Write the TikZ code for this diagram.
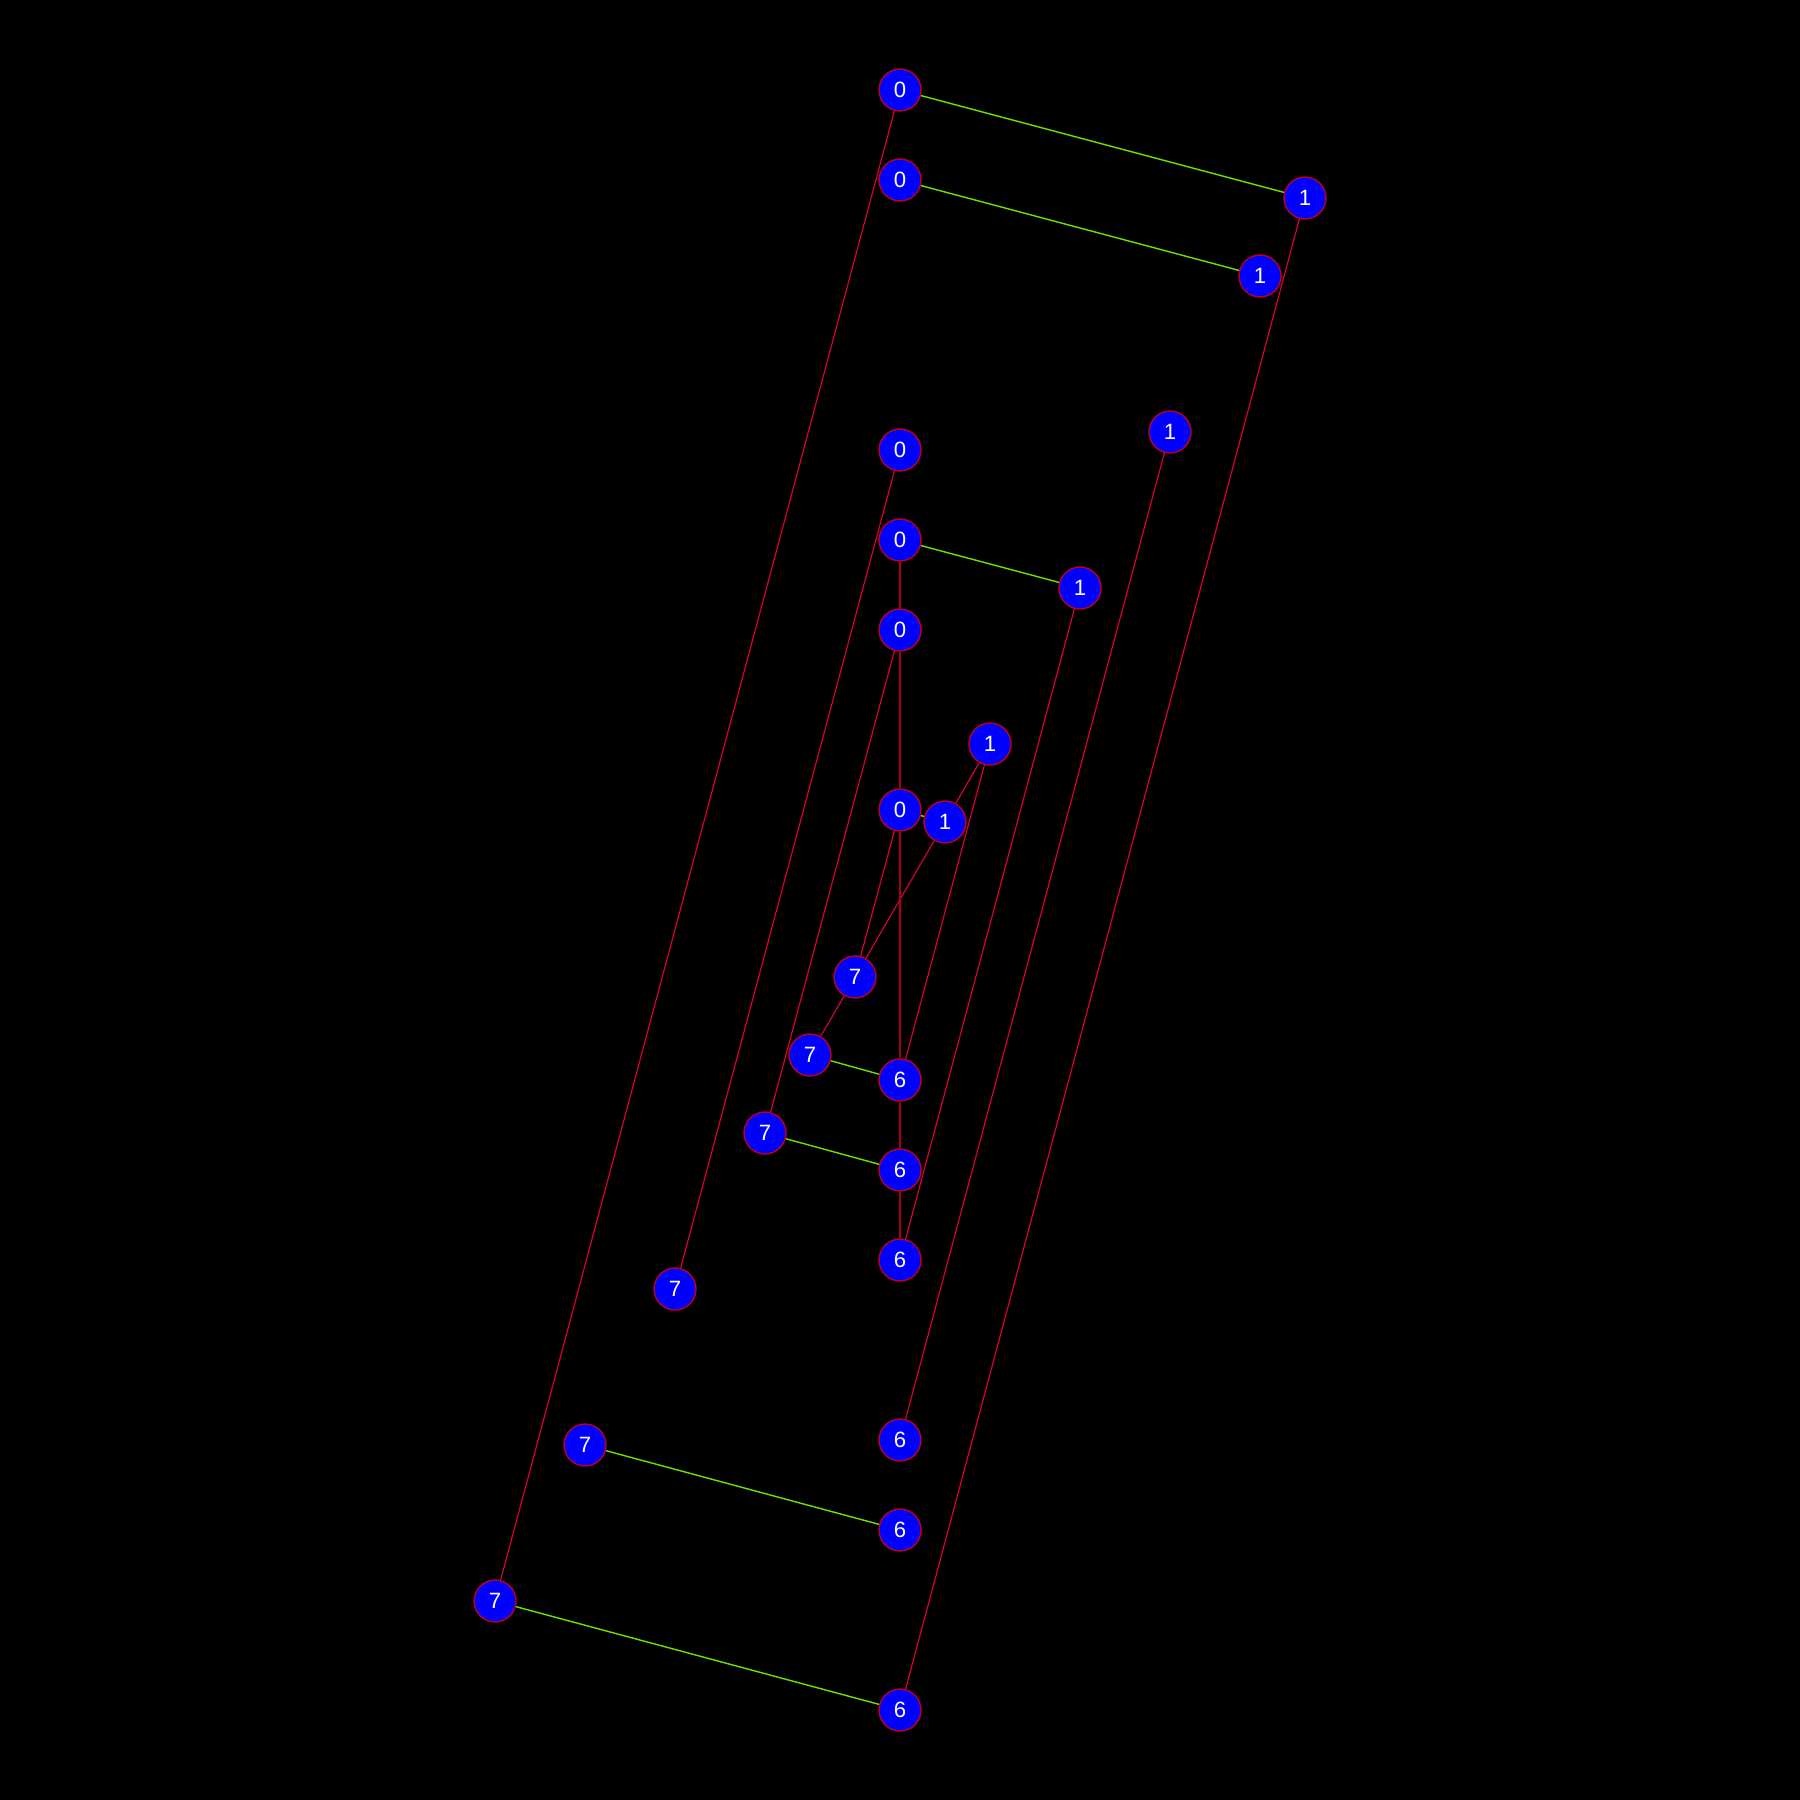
\documentclass[tikz,border=0pt]{standalone}
\usepackage{fontspec}
\setmainfont{Liberation Sans}
\definecolor{nodeblue}{RGB}{0,0,255}
\definecolor{nodeedge}{RGB}{190,0,30}
\definecolor{redline}{RGB}{225,0,50}
\definecolor{darkredline}{RGB}{170,0,20}
\definecolor{greenline}{RGB}{110,225,0}
\begin{document}
\begin{tikzpicture}[x=0.01cm,y=-0.01cm,
  vnode/.style={circle,fill=nodeblue,draw=nodeedge,line width=0.4pt,minimum size=0.42cm,inner sep=0pt,text=white,font=\fontsize{6.3}{7}\selectfont},
  redge/.style={draw=redline,line width=0.32pt},
  vedge/.style={draw=darkredline,line width=0.7pt},
  gedge/.style={draw=greenline,line width=0.4pt}]
\fill[black] (0,0) rectangle (1800,1800);
\useasboundingbox (0,0) rectangle (1800,1800);
\node[vnode] (A0) at (900,90) {0};
\node[vnode] (A1) at (1305,198) {1};
\node[vnode] (B0) at (900,180) {0};
\node[vnode] (B1) at (1260,276) {1};
\node[vnode] (C0) at (900,450) {0};
\node[vnode] (C1) at (1170,432) {1};
\node[vnode] (D0) at (900,540) {0};
\node[vnode] (D1) at (1080,588) {1};
\node[vnode] (E0) at (900,630) {0};
\node[vnode] (F1) at (990,744) {1};
\node[vnode] (G0) at (900,810) {0};
\node[vnode] (G1) at (945,822) {1};
\node[vnode] (H7) at (855,977) {7};
\node[vnode] (I7) at (810,1055) {7};
\node[vnode] (I6) at (900,1080) {6};
\node[vnode] (J7) at (765,1133) {7};
\node[vnode] (J6) at (900,1170) {6};
\node[vnode] (K6) at (900,1260) {6};
\node[vnode] (K7) at (675,1289) {7};
\node[vnode] (L6) at (900,1440) {6};
\node[vnode] (M7) at (585,1445) {7};
\node[vnode] (M6) at (900,1530) {6};
\node[vnode] (N7) at (495,1601) {7};
\node[vnode] (N6) at (900,1710) {6};
% edges
\path[gedge] (A0) -- (A1);
\path[gedge] (B0) -- (B1);
\path[gedge] (D0) -- (D1);
\path[gedge] (G0) -- (G1);
\path[gedge] (I7) -- (I6);
\path[gedge] (J7) -- (J6);
\path[gedge] (M7) -- (M6);
\path[gedge] (N7) -- (N6);
\path[redge] (A0) -- (N7);
\path[redge] (A1) -- (N6);
\path[redge] (C0) -- (K7);
\path[redge] (C1) -- (L6);
\path[redge] (E0) -- (J7);
\path[redge] (D1) -- (K6);
\path[redge] (G0) -- (H7);
\path[redge] (F1) -- (I6);
\path[redge] (F1) -- (G1);
\path[redge] (G1) -- (H7);
\path[redge] (H7) -- (I7);
\path[vedge] (D0) -- (E0);
\path[vedge] (E0) -- (G0);
\path[vedge] (G0) -- (I6);
\path[vedge] (I6) -- (J6);
\path[vedge] (J6) -- (K6);
\end{tikzpicture}
\end{document}
